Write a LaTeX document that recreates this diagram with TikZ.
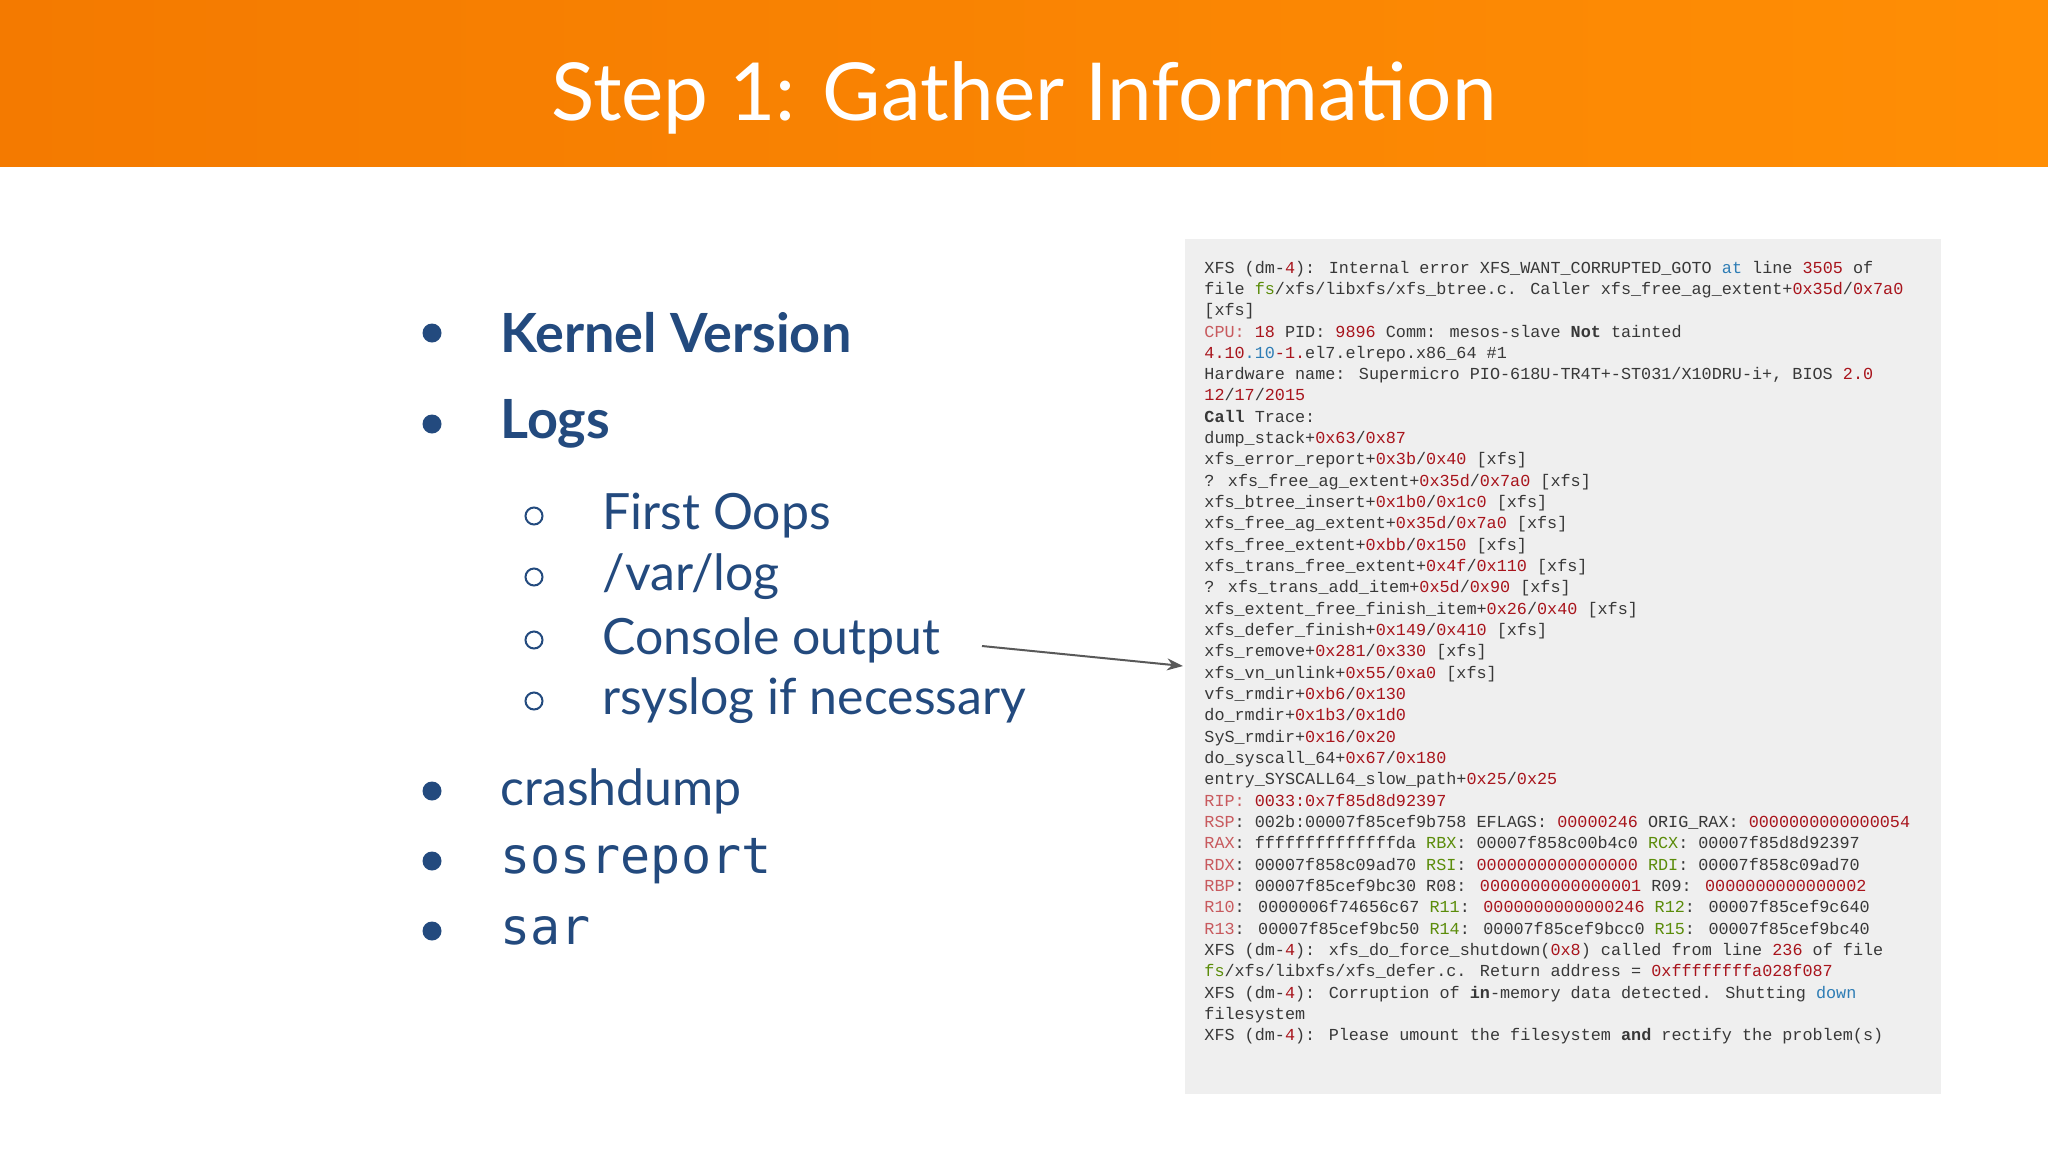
\documentclass[tikz,border=0pt]{standalone}
\usepackage{fontspec}
\setmainfont{Lato}
\newfontfamily\codefont{Liberation Mono}
\newfontfamily\bulmono{DejaVu Sans Mono}
\usetikzlibrary{arrows.meta}
\definecolor{orA}{HTML}{F47A00}
\definecolor{orB}{HTML}{FF8E05}
\definecolor{navy}{HTML}{234A7E}
\definecolor{panel}{HTML}{EFEFEF}
\definecolor{ctext}{HTML}{383838}
\definecolor{nr}{HTML}{A8141C}
\definecolor{lr}{HTML}{C85A5E}
\definecolor{gr}{HTML}{5B8C0A}
\definecolor{bl}{HTML}{2E7DB5}
\newcommand\R[1]{\textcolor{nr}{#1}}
\newcommand\LR[1]{\textcolor{lr}{#1}}
\newcommand\G[1]{\textcolor{gr}{#1}}
\newcommand\B[1]{\textcolor{bl}{#1}}
\newcommand\K[1]{\textbf{#1}}
\tikzset{
  code/.style={anchor=base west,inner sep=0,text=ctext,font=\codefont\fontsize{8.4}{10}\selectfont},
  bigitem/.style={anchor=west,inner sep=0,text=navy,font=\fontsize{27}{30}\selectfont\bfseries},
  subitem/.style={anchor=west,inner sep=0,text=navy,font=\fontsize{25}{30}\selectfont},
  monoitem/.style={anchor=west,inner sep=0,text=navy,font=\bulmono\fontsize{25}{30}\selectfont},
  dot/.style={circle,fill=navy,inner sep=0,minimum size=9.5pt},
  ring/.style={circle,draw=navy,line width=1pt,inner sep=0,minimum size=8.5pt},
}
\newcommand\cl[2]{\node[code] (c#1) at (1204,{273+21.33*#1}) {#2};}
\begin{document}
\begin{tikzpicture}[x=0.5pt,y=-0.5pt]
\useasboundingbox (0,0) rectangle (2048,1152);
\fill[white] (0,0) rectangle (2048,1152);
\shade[left color=orA,right color=orB] (0,0) rectangle (2048,166);
\node[text=white,font=\fontsize{40}{44}\selectfont] (title) at (1024,98) {Step 1: Gather Information};
\fill[panel] (1185,239) rectangle (1941,1094);
\cl{0}{XFS (dm-\R{4}): Internal error XFS\_WANT\_CORRUPTED\_GOTO \B{at} line \R{3505} of}
\cl{1}{file \G{fs}/xfs/libxfs/xfs\_btree.c.  Caller xfs\_free\_ag\_extent+\R{0x35d}/\R{0x7a0}}
\cl{2}{[xfs]}
\cl{3}{\LR{CPU:} \R{18} PID: \R{9896} Comm: mesos-slave \K{Not} tainted}
\cl{4}{\R{4.10}\B{.10}\R{-1.}el7.elrepo.x86\_64 \#1}
\cl{5}{Hardware name: Supermicro PIO-618U-TR4T+-ST031/X10DRU-i+, BIOS \R{2.0}}
\cl{6}{\R{12}/\R{17}/\R{2015}}
\cl{7}{\K{Call} Trace:}
\cl{8}{dump\_stack+\R{0x63}/\R{0x87}}
\cl{9}{xfs\_error\_report+\R{0x3b}/\R{0x40} [xfs]}
\cl{10}{? xfs\_free\_ag\_extent+\R{0x35d}/\R{0x7a0} [xfs]}
\cl{11}{xfs\_btree\_insert+\R{0x1b0}/\R{0x1c0} [xfs]}
\cl{12}{xfs\_free\_ag\_extent+\R{0x35d}/\R{0x7a0} [xfs]}
\cl{13}{xfs\_free\_extent+\R{0xbb}/\R{0x150} [xfs]}
\cl{14}{xfs\_trans\_free\_extent+\R{0x4f}/\R{0x110} [xfs]}
\cl{15}{? xfs\_trans\_add\_item+\R{0x5d}/\R{0x90} [xfs]}
\cl{16}{xfs\_extent\_free\_finish\_item+\R{0x26}/\R{0x40} [xfs]}
\cl{17}{xfs\_defer\_finish+\R{0x149}/\R{0x410} [xfs]}
\cl{18}{xfs\_remove+\R{0x281}/\R{0x330} [xfs]}
\cl{19}{xfs\_vn\_unlink+\R{0x55}/\R{0xa0} [xfs]}
\cl{20}{vfs\_rmdir+\R{0xb6}/\R{0x130}}
\cl{21}{do\_rmdir+\R{0x1b3}/\R{0x1d0}}
\cl{22}{SyS\_rmdir+\R{0x16}/\R{0x20}}
\cl{23}{do\_syscall\_64+\R{0x67}/\R{0x180}}
\cl{24}{entry\_SYSCALL64\_slow\_path+\R{0x25}/\R{0x25}}
\cl{25}{\LR{RIP:} \R{0033:0x7f85d8d92397}}
\cl{26}{\LR{RSP}: 002b:00007f85cef9b758 EFLAGS: \R{00000246} ORIG\_RAX: \R{0000000000000054}}
\cl{27}{\LR{RAX}: ffffffffffffffda \G{RBX}: 00007f858c00b4c0 \G{RCX}: 00007f85d8d92397}
\cl{28}{\LR{RDX}: 00007f858c09ad70 \G{RSI}: \R{0000000000000000} \G{RDI}: 00007f858c09ad70}
\cl{29}{\LR{RBP}: 00007f85cef9bc30 R08: \R{0000000000000001} R09: \R{0000000000000002}}
\cl{30}{\LR{R10}: 0000006f74656c67 \G{R11}: \R{0000000000000246} \G{R12}: 00007f85cef9c640}
\cl{31}{\LR{R13}: 00007f85cef9bc50 \G{R14}: 00007f85cef9bcc0 \G{R15}: 00007f85cef9bc40}
\cl{32}{XFS (dm-\R{4}): xfs\_do\_force\_shutdown(\R{0x8}) called from line \R{236} of file}
\cl{33}{\G{fs}/xfs/libxfs/xfs\_defer.c.  Return address = \R{0xffffffffa028f087}}
\cl{34}{XFS (dm-\R{4}): Corruption of \K{in}-memory data detected.  Shutting \B{down}}
\cl{35}{filesystem}
\cl{36}{XFS (dm-\R{4}): Please umount the filesystem \K{and} rectify the problem(s)}
% bullets
\node[dot] (d1) at (432,333) {};
\node[bigitem] (kv) at (500,333) {Kernel Version};
\node[dot] (d2) at (432,424) {};
\node[bigitem] (logs) at (500,424) {Logs};
\node[ring] (r1) at (534,516) {};
\node[subitem] (oops) at (602,516) {First Oops};
\node[ring] (r2) at (534,577) {};
\node[subitem] (varlog) at (602,577) {/var/log};
\node[ring] (r3) at (534,640) {};
\node[subitem] (console) at (602,640) {Console output};
\node[ring] (r4) at (534,701) {};
\node[subitem] (rsys) at (602,701) {rsyslog if necessary};
\node[dot] (d3) at (432,791) {};
\node[subitem] (crash) at (500,791) {crashdump};
\node[dot] (d4) at (432,861) {};
\node[monoitem] (sos) at (500,861) {sosreport};
\node[dot] (d5) at (432,931) {};
\node[monoitem] (sar) at (500,931) {sar};
\coordinate (as) at (982,646);
\coordinate (ae) at (1183,666);
\draw[draw=black!65,line width=1pt,-{Stealth[length=8pt,width=6pt]}] (as) -- (ae);
\end{tikzpicture}
\end{document}
